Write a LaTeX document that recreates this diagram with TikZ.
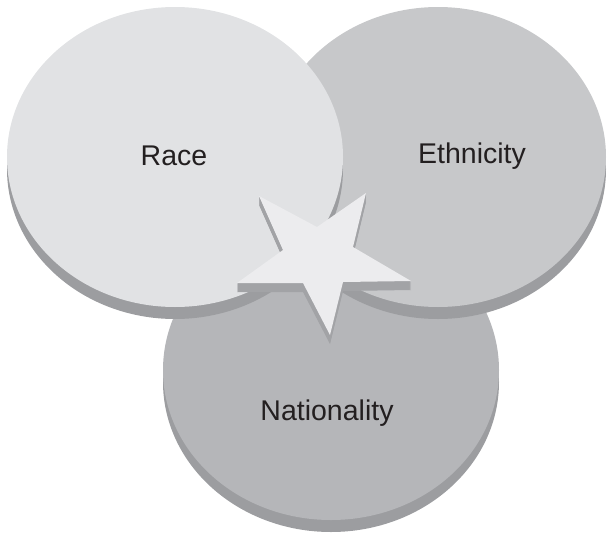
\documentclass[tikz,border=0pt]{standalone}
\usepackage{fontspec}
\setmainfont{Liberation Sans}
\usepackage{xcolor}
\usepackage{tikz}

\definecolor{raceface}{HTML}{E1E2E4}
\definecolor{ethface}{HTML}{C7C8CA}
\definecolor{natface}{HTML}{B5B6B9}
\definecolor{rimgrey}{HTML}{9C9DA0}
\definecolor{starface}{HTML}{ECECEE}
\definecolor{starrim}{HTML}{A2A3A6}
\definecolor{labelink}{HTML}{231F20}

\tikzset{
  rim/.style={fill=rimgrey},
  starside/.style={fill=starrim},
}

\begin{document}
\begin{tikzpicture}[x=1pt, y=-1pt, every node/.style={text=labelink, font=\fontsize{28.5}{34}\selectfont}]
     \useasboundingbox (0,0) rectangle (608,533);

     % Nationality disc (back)
     \fill[rim] (163,370) rectangle (499,382);
     \fill[rim] (331,382) ellipse [x radius=168, y radius=150];
     \fill[natface] (331,370) ellipse [x radius=168, y radius=150];

     % Ethnicity disc
     \fill[rim] (270,157) rectangle (606,169);
     \fill[rim] (438,169) ellipse [x radius=168, y radius=150];
     \fill[ethface] (438,157) ellipse [x radius=168, y radius=150];

     % Race disc (front)
     \fill[rim] (7,157) rectangle (343,169);
     \fill[rim] (175,169) ellipse [x radius=168, y radius=150];
     \fill[raceface] (175,157) ellipse [x radius=168, y radius=150];

     % star
     \foreach \k in {1,...,9}
       \fill[starside, yshift=-\k pt] (259,196) -- (317,227) -- (366,193) -- (353,247) -- (411,281)
         -- (343,282) -- (330,335) -- (303,283) -- (237,283) -- (283,250) -- cycle;
     \fill[starface] (259,196) -- (317,227) -- (366,193) -- (353,247) -- (411,281)
         -- (343,282) -- (330,335) -- (303,283) -- (237,283) -- (283,250) -- cycle;

     \node (race) at (174,156) {Race};
     \node (ethnicity) at (472,156) {Ethnicity};
     \node (nationality) at (327,413) {Nationality};
 \end{tikzpicture}
\end{document}
